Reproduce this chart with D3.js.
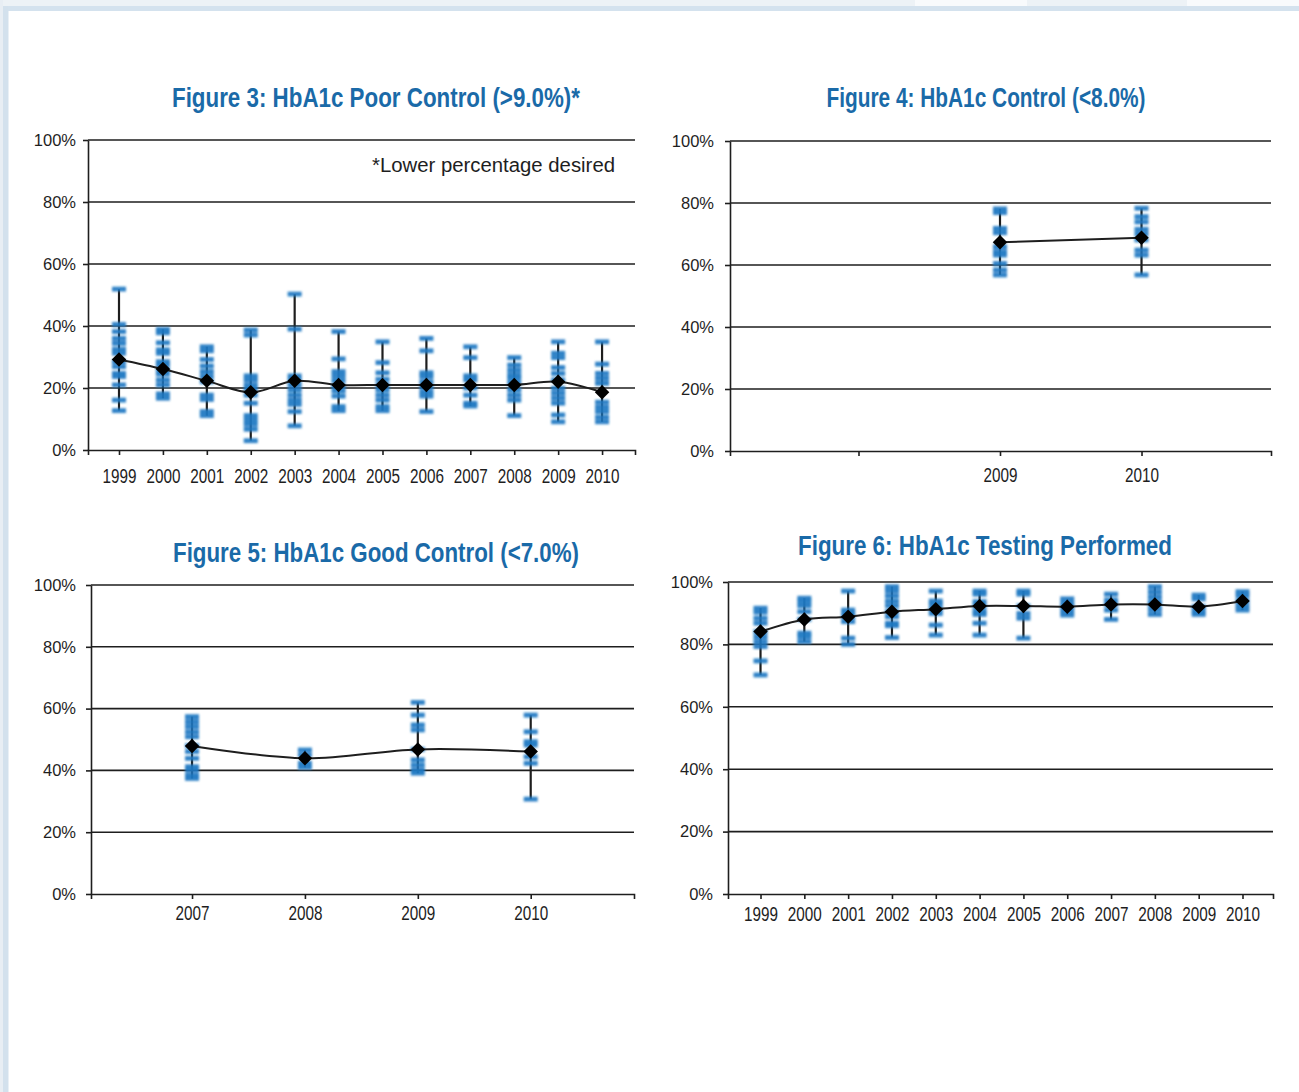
<!DOCTYPE html>
<html>
<head>
<meta charset="utf-8">
<script src="https://cdn.jsdelivr.net/npm/d3@7/dist/d3.min.js"></script>
<style>
  html, body { margin: 0; padding: 0; background: #fff; }
  svg { display: block; }
</style>
</head>
<body>
<svg id="page" width="1299" height="1092"></svg>
<script>
// ---- Figure 3: HbA1c poor control (>9.0%) ----
const fig3Years = [1999, 2000, 2001, 2002, 2003, 2004, 2005, 2006, 2007, 2008, 2009, 2010];
const fig3TickLabels = ["1999", "2000", "2001", "2002", "2003", "2004", "2005", "2006", "2007", "2008", "2009", "2010"];
const fig3Means = [29.2, 26.1, 22.3, 18.6, 22.3, 21.0, 21.0, 21.0, 21.0, 21.0, 22.0, 18.6];
const fig3Sites = [
  [51.9, 40.5, 38.2, 36.0, 34.4, 32.5, 31.2, 28.5, 26.9, 24.7, 23.7, 21.0, 16.1, 12.7],
  [38.9, 37.8, 34.6, 32.3, 31.2, 28.5, 27.4, 25.8, 24.5, 22.6, 21.0, 18.1, 16.7],
  [33.3, 32.0, 29.2, 27.1, 25.3, 23.7, 22.0, 17.7, 16.3, 12.4, 11.1],
  [38.7, 37.1, 23.9, 22.6, 21.0, 19.6, 17.7, 15.1, 11.1, 9.7, 8.3, 6.7, 3.0],
  [50.3, 39.0, 23.9, 22.6, 21.0, 19.4, 17.7, 16.1, 14.7, 12.4, 7.8],
  [38.2, 29.4, 25.3, 23.9, 22.4, 20.6, 19.1, 17.4, 14.0, 12.7],
  [34.9, 28.2, 24.9, 22.8, 21.0, 19.4, 17.7, 16.1, 14.0, 12.7],
  [36.0, 32.0, 24.9, 23.7, 22.0, 20.4, 18.8, 17.4, 12.4],
  [33.3, 29.8, 23.9, 22.6, 20.0, 17.7, 15.1, 14.2],
  [29.8, 27.4, 25.8, 24.3, 23.1, 21.6, 19.4, 17.7, 16.1, 11.1],
  [34.9, 31.2, 29.8, 26.6, 24.7, 22.6, 19.9, 18.3, 16.7, 15.1, 11.3, 9.1],
  [34.9, 27.7, 24.7, 23.1, 21.5, 15.4, 13.8, 12.4, 10.6, 9.1]
];

// ---- Figure 4: HbA1c control (<8.0%) ----
const fig4Years = [2009, 2010];
const fig4TickYears = [2008, 2009, 2010];
const fig4TickLabels = ["", "2009", "2010"];
const fig4Means = [67.3, 68.8];
const fig4Sites = [
  [78.1, 76.9, 71.8, 70.4, 65.9, 64.3, 63.2, 60.5, 58.4, 56.8],
  [78.3, 75.6, 73.9, 71.5, 70.0, 68.1, 64.8, 63.2, 56.8]
];

// ---- Figure 5: HbA1c good control (<7.0%) ----
const fig5Years = [2007, 2008, 2009, 2010];
const fig5TickLabels = ["2007", "2008", "2009", "2010"];
const fig5Means = [47.9, 43.9, 46.8, 46.1];
const fig5Sites = [
  [57.4, 55.8, 54.2, 52.5, 50.9, 48.0, 46.1, 43.9, 41.2, 40.1, 38.5, 37.4],
  [46.6, 45.0, 42.3, 41.0],
  [62.0, 57.9, 54.7, 53.1, 46.8, 43.4, 41.7, 40.1, 39.1],
  [57.9, 52.5, 49.3, 48.2, 44.4, 42.3, 30.7]
];

// ---- Figure 6: HbA1c testing performed ----
const fig6Years = [1999, 2000, 2001, 2002, 2003, 2004, 2005, 2006, 2007, 2008, 2009, 2010];
const fig6TickLabels = ["1999", "2000", "2001", "2002", "2003", "2004", "2005", "2006", "2007", "2008", "2009", "2010"];
const fig6Means = [84.1, 88.0, 88.9, 90.5, 91.3, 92.3, 92.3, 92.1, 92.8, 92.8, 92.1, 93.9];
const fig6Sites = [
  [91.6, 90.3, 88.4, 86.8, 84.1, 82.5, 80.9, 79.3, 74.7, 70.2],
  [94.8, 93.7, 92.4, 90.5, 88.0, 83.6, 82.5, 80.9],
  [97.1, 91.0, 89.9, 88.9, 87.3, 82.0, 80.0],
  [98.5, 97.2, 95.6, 93.9, 92.4, 90.5, 88.9, 86.8, 86.0, 82.2],
  [97.1, 93.9, 92.8, 91.3, 89.9, 86.2, 83.0],
  [97.1, 96.1, 93.7, 92.3, 90.7, 89.6, 86.8, 83.0],
  [97.1, 96.1, 92.3, 89.9, 88.4, 82.0],
  [94.6, 93.2, 92.1, 90.7, 89.4],
  [96.1, 94.2, 92.8, 91.0, 88.0],
  [98.5, 96.9, 95.3, 93.7, 92.8, 91.2, 89.6],
  [95.8, 94.6, 92.1, 90.7, 89.6],
  [96.9, 95.6, 93.9, 92.4, 91.0]
];

const yTicks = [0, 20, 40, 60, 80, 100];

const INK = "#1e1e1e";
const TITLE_BLUE = "#1a6aa8";
const SITE_BLUE = "#1e78c2";
const NARROW = "'Liberation Sans Narrow', 'Liberation Sans', Arial, sans-serif";
const SANS = "'Liberation Sans', Arial, sans-serif";

const svg = d3.select("#page");

// page frame
svg.append("rect").attr("x", 0).attr("y", 0).attr("width", 1299).attr("height", 7).attr("fill", "#edf2f6");
svg.append("rect").attr("x", 915).attr("y", 0).attr("width", 112).attr("height", 6).attr("fill", "#f8fafc");
svg.append("rect").attr("x", 1187).attr("y", 0).attr("width", 112).attr("height", 6).attr("fill", "#f8fafc");
svg.append("rect").attr("x", 0).attr("y", 0).attr("width", 3).attr("height", 1092).attr("fill", "#e8eef4");
svg.append("rect").attr("x", 3).attr("y", 6).attr("width", 1296).attr("height", 5).attr("fill", "#d4e2ee");
svg.append("rect").attr("x", 3).attr("y", 6).attr("width", 5.5).attr("height", 1086).attr("fill", "#d3e1ed");

// soft edge on the site markers
const defs = svg.append("defs");
defs.append("filter").attr("id", "soft")
  .attr("x", "-20%").attr("y", "-60%").attr("width", "140%").attr("height", "220%")
  .append("feGaussianBlur").attr("stdDeviation", 0.85);

function drawPanel(cfg) {
  const g = svg.append("g");
  const x = d3.scaleLinear().domain(cfg.xDomain).range([cfg.left, cfg.right]);
  const y = d3.scaleLinear().domain([0, 100]).range([cfg.bottom, cfg.top]);

  // title
  g.append("text")
    .attr("x", cfg.titleX).attr("y", cfg.titleY)
    .attr("text-anchor", "middle")
    .attr("font-family", NARROW).attr("font-weight", "bold")
    .attr("font-size", 28).attr("fill", TITLE_BLUE)
    .attr("textLength", cfg.titleWidth).attr("lengthAdjust", "spacingAndGlyphs")
    .text(cfg.title);

  // horizontal gridlines
  g.append("g").selectAll("line").data(yTicks.filter(t => t > 0)).join("line")
    .attr("x1", cfg.left).attr("x2", cfg.right)
    .attr("y1", d => y(d)).attr("y2", d => y(d))
    .attr("stroke", INK).attr("stroke-width", 1.6);

  // y axis
  const yAxis = g.append("g").attr("transform", `translate(${cfg.left},0)`)
    .call(d3.axisLeft(y).tickValues(yTicks).tickSize(5).tickSizeOuter(0)
      .tickPadding(cfg.yPad).tickFormat(d => d + "%"));
  yAxis.selectAll("path, line").attr("stroke", INK).attr("stroke-width", 1.6);
  yAxis.selectAll("text").attr("font-family", SANS).attr("font-size", 16.5).attr("fill", INK);

  // x axis
  const labelOf = new Map(cfg.tickYears.map((yr, i) => [yr, cfg.tickLabels[i]]));
  const xAxis = g.append("g").attr("transform", `translate(0,${cfg.bottom})`)
    .call(d3.axisBottom(x).tickValues(cfg.tickYears).tickSize(5).tickSizeOuter(5)
      .tickFormat(d => labelOf.get(d)));
  xAxis.selectAll("path, line").attr("stroke", INK).attr("stroke-width", 1.6);
  xAxis.selectAll("text")
    .attr("y", cfg.xLabelOffset).attr("dy", "0.35em")
    .attr("font-family", NARROW).attr("font-size", 20).attr("fill", INK)
    .each(function (d) {
      if (labelOf.get(d)) d3.select(this).attr("textLength", 34).attr("lengthAdjust", "spacingAndGlyphs");
    });

  const rows = cfg.years.map((yr, i) => ({ year: yr, mean: cfg.means[i], sites: cfg.sites[i] }));

  // whiskers: site minimum to maximum
  g.append("g").selectAll("line").data(rows).join("line")
    .attr("x1", d => x(d.year)).attr("x2", d => x(d.year))
    .attr("y1", d => y(d3.min(d.sites))).attr("y2", d => y(d3.max(d.sites)))
    .attr("stroke", INK).attr("stroke-width", 2.2);

  // individual site results
  const marks = rows.flatMap(d => d.sites.map(v => ({ year: d.year, v })));
  g.append("g").attr("filter", "url(#soft)")
    .selectAll("rect").data(marks).join("rect")
    .attr("x", d => x(d.year) - 7).attr("y", d => y(d.v) - 2.4)
    .attr("width", 14).attr("height", 4.8)
    .attr("fill", SITE_BLUE).attr("fill-opacity", 0.92);

  // overall rate line and markers
  g.append("path").datum(rows)
    .attr("d", d3.line().x(d => x(d.year)).y(d => y(d.mean)).curve(d3.curveCatmullRom))
    .attr("fill", "none").attr("stroke", INK).attr("stroke-width", 2);
  g.append("g").selectAll("path").data(rows).join("path")
    .attr("transform", d => `translate(${x(d.year)},${y(d.mean)}) rotate(45)`)
    .attr("d", d3.symbol().type(d3.symbolSquare).size(105))
    .attr("fill", "#000");

  return { g, x, y };
}

const p3 = drawPanel({
  title: "Figure 3: HbA1c Poor Control (>9.0%)*", titleX: 376, titleY: 107, titleWidth: 408,
  left: 88, right: 635, top: 140, bottom: 450, xDomain: [1998.294, 2010.75],
  years: fig3Years, means: fig3Means, sites: fig3Sites,
  tickYears: fig3Years, tickLabels: fig3TickLabels, yPad: 7, xLabelOffset: 26
});
p3.g.append("text")
  .attr("x", 615).attr("y", 172).attr("text-anchor", "end")
  .attr("font-family", SANS).attr("font-size", 19.5).attr("fill", INK)
  .attr("textLength", 243).attr("lengthAdjust", "spacingAndGlyphs")
  .text("*Lower percentage desired");

drawPanel({
  title: "Figure 4: HbA1c Control (<8.0%)", titleX: 986, titleY: 107, titleWidth: 319,
  left: 730, right: 1271, top: 141, bottom: 451, xDomain: [2007.092, 2010.915],
  years: fig4Years, means: fig4Means, sites: fig4Sites,
  tickYears: fig4TickYears, tickLabels: fig4TickLabels, yPad: 11, xLabelOffset: 24
});

drawPanel({
  title: "Figure 5: HbA1c Good Control (<7.0%)", titleX: 376, titleY: 562, titleWidth: 406,
  left: 91, right: 634, top: 585, bottom: 894, xDomain: [2006.105, 2010.915],
  years: fig5Years, means: fig5Means, sites: fig5Sites,
  tickYears: fig5Years, tickLabels: fig5TickLabels, yPad: 10, xLabelOffset: 19
});

drawPanel({
  title: "Figure 6: HbA1c Testing Performed", titleX: 985, titleY: 555, titleWidth: 374,
  left: 728, right: 1273, top: 582, bottom: 894, xDomain: [1998.258, 2010.696],
  years: fig6Years, means: fig6Means, sites: fig6Sites,
  tickYears: fig6Years, tickLabels: fig6TickLabels, yPad: 10, xLabelOffset: 20
});
</script>
</body>
</html>
